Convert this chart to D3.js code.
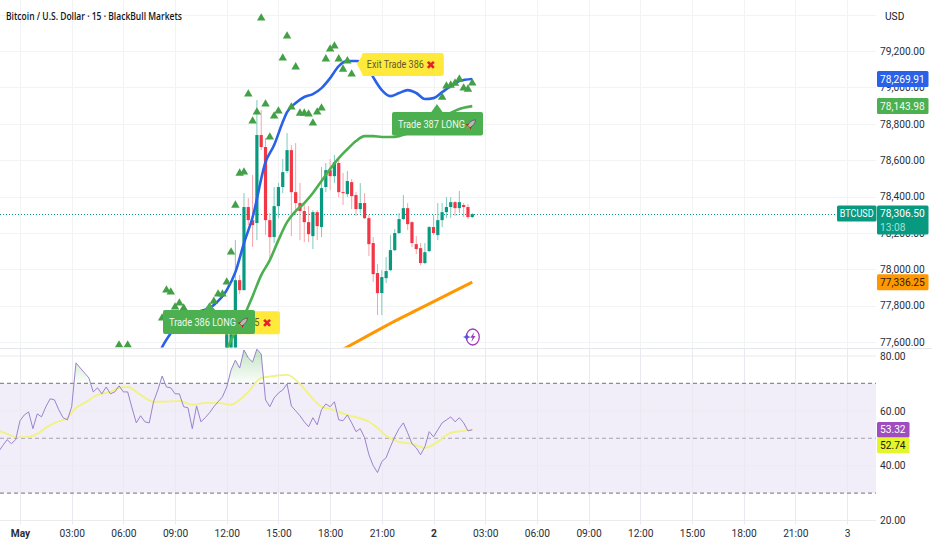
<!DOCTYPE html>
<html><head><meta charset="utf-8">
<script src="https://cdn.jsdelivr.net/npm/d3@7/dist/d3.min.js"></script>
<style>html,body{margin:0;padding:0;background:#fff;overflow:hidden}svg{display:block}text{font-family:Roboto,sans-serif}</style>
</head><body><svg id="c" width="932" height="550"></svg>
<script>
const title = "Bitcoin / U.S. Dollar · 15 · BlackBull Markets";
const currency = "USD";
const firstBar = 48;
const opens = [77544,77544,77544,77940,77885,78342,78270,78254,78738,78672,78270,78177,78347,78452,78540,78655,78424,78364,78320,78259,78182,78314,78232,78452,78545,78512,78584,78424,78413,78479,78408,78331,78364,78281,78144,77979,77869,77951,77995,78105,78199,78276,78336,78259,78138,78116,78034,78100,78232,78188,78270,78314,78342,78369,78336,78353,78342,78287];
const closes = [77649,77731,77940,77885,78342,78270,78243,78738,78672,78270,78177,78347,78452,78534,78655,78424,78364,78320,78259,78193,78314,78237,78446,78545,78512,78589,78424,78419,78485,78402,78331,78364,78281,78138,77973,77869,77957,77990,78105,78199,78276,78336,78248,78144,78111,78034,78094,78232,78199,78270,78314,78342,78369,78336,78369,78342,78287,78303];
const highs = [77649,77731,78160,77968,78419,78391,78518,78930,78875,78721,78309,78452,78474,78606,78749,78683,78694,78474,78353,78347,78325,78325,78562,78584,78606,78628,78611,78529,78540,78496,78424,78474,78419,78298,78177,78028,77995,78067,78188,78221,78309,78408,78364,78265,78182,78144,78144,78237,78298,78364,78364,78397,78397,78375,78430,78364,78358,78309];
const lows = [77544,77544,77544,77863,77885,78243,78122,78160,78655,78188,78050,78144,78281,78419,78529,78182,78298,78160,78149,78149,78111,78160,78177,78424,78435,78474,78397,78353,78397,78331,78292,78309,78276,78072,77929,77748,77748,77924,77990,78100,78193,78270,78215,78122,78083,78023,78028,78094,78188,78160,78232,78281,78281,78292,78309,78287,78276,78281];

const blueBars = [32,33,35,38,45,48,50,52,54,57,59,61,62,64,66,68,70,72,74,76,78,80,82,84,86,88,90,92,94,96,98,100,102,105];
const blueVals = [77522,77572,77648,77731,77803,77885,77984,78144,78286,78589,78683,78809,78864,78914,78947,78963,78996,79051,79117,79145,79145,79140,79056,78985,78952,78969,78985,78969,78936,78941,78974,79007,79035,79046];
const greenBars = [47,49,52,54,56,58,60,62,64,66,68,70,72,74,76,78,80,82,84,86,88,92,96,100,102,105];
const greenVals = [77500,77610,77742,77852,77968,78050,78160,78259,78320,78364,78419,78485,78551,78611,78660,78705,78732,78732,78727,78727,78732,78765,78809,78859,78881,78897];
const orangeBars = [75,81,87,93,99,105];
const orangeVals = [77560,77638,77715,77786,77858,77929];

const triBars = [23,25,33,34,35,36,37,38,44,45,46,47,48,49,50,51,52,53,54,55,56,57,58,59,60,61,62,63,64,65,66,67,68,69,70,71,72,73,74,75,76,77,98,99,100,101,102,103,104,105];
const triVals = [77583,77583,77731,77885,77874,77792,77814,77786,77792,77824,77863,77863,77929,78094,78352,78528,78534,78963,78815,78864,79381,78908,78727,78842,78870,79161,79282,78892,79112,78858,78858,78853,78804,78864,78886,79156,79210,79227,79156,79100,79145,79073,78946,79007,79012,79023,79045,78996,78990,79024];

const rsiStart = -5;
const rsiVals = [45.1,47.3,49.5,48,49.5,56.4,58.5,59.6,53.5,58.9,57.8,61.5,64.4,64,60.4,57.5,56.7,61.5,77.5,75.6,73.8,72,66.9,68.4,66.2,68.7,66.2,66.9,69.1,66.9,66.9,61.1,55.6,58.2,56,55.6,63.3,67.6,72.7,68.7,68.4,66.2,66.2,61.5,61.1,53.5,61.8,56,57.5,59.3,61.5,63.3,65.1,68.7,74.9,78.5,75.6,82.2,79.3,77.8,82.5,80.7,64,61.5,64.7,66.5,67.6,69.8,61.8,60,58.2,56,54.2,57.5,54.9,60.4,62.5,61.5,63.3,56.7,56.4,58.5,55.6,52.4,53.5,50.2,44,40,37.5,41.5,42.9,46.9,50.5,53.5,55.6,52,48,46.5,44,46.9,52.4,50.5,53.1,55.6,56.7,57.8,56,57.5,55.6,52.7,53.1];
const maBars = [-5,-3,-1,2,4,6,8,11,13,15,18,21,23,25,28,31,33,37,40,43,46,49,51,53,56,59,62,65,67,70,72,76,81,83,85,88,91,94,97,100,103,105];
const maVals = [52.7,51.6,50.4,50.5,51.6,53.8,55.6,57.5,61.1,62.9,65.8,66.9,68.4,68.7,65.8,63.3,63.3,63.6,62.2,62.9,62.9,62.2,64,66.9,72,72.7,73.1,69.8,66.2,61.5,60.7,58.5,56,53.8,50.9,48.7,48,46.5,48.7,52,52.7,53.1];

const priceTicks = [79200,79000,78800,78600,78400,78200,78000,77800,77600];
const priceGrid = [79400].concat(priceTicks);
const rsiTicks = [80,60,40,20];
const rsiBands = [70,50,30];
const timeBars = [0,12,24,36,48,60,72,84,96,108,120,132,144,156,168,180,192];
const timeLabels = ["May","03:00","06:00","09:00","12:00","15:00","18:00","21:00","2","03:00","06:00","09:00","12:00","15:00","18:00","21:00","3"];
const boldTimes = ["May","2"];

const lastPrice = 78306.5;
const countdown = "13:08";
const symbol = "BTCUSD";
const readBlue = "78,269.91", readGreen = "78,143.98", readOrange = "77,336.25";
const readRsi = "53.32", readMa = "52.74";

const C = {up:"#089981",dn:"#f23645",upW:"#7fcbbd",dnW:"#f7a3aa",blue:"#2962e8",green:"#4caf50",orange:"#ff9800",tri:"#43a047",grid:"#f2f3f5",txt:"#131722",rsi:"#9a83cc",ma:"#f0f285",band:"#f2eef9",yellow:"#ffe93b",purple:"#a04dc0",lime:"#e4f52c"};

const x = d3.scaleLinear().domain([0,192]).range([20,847]);
const yP = d3.scaleLinear().domain([79200,77600]).range([51,342]);
const yR = d3.scaleLinear().domain([80,20]).range([356,520.5]);
const W = 876;

const svg = d3.select("#c");
svg.append("rect").attr("width",932).attr("height",550).attr("fill","#fff");
const defs = svg.append("defs");
defs.append("clipPath").attr("id","cp").append("rect").attr("width",W).attr("height",347.5);
defs.append("clipPath").attr("id","cr").append("rect").attr("y",349).attr("width",W).attr("height",176);
defs.append("clipPath").attr("id","ob").append("rect").attr("y",349).attr("width",W).attr("height",yR(70)-349);
const gr = defs.append("linearGradient").attr("id","obg").attr("gradientUnits","userSpaceOnUse").attr("x1",0).attr("x2",0).attr("y1",349).attr("y2",yR(70));
gr.append("stop").attr("offset","0%").attr("stop-color","#4caf50").attr("stop-opacity",0.34);
gr.append("stop").attr("offset","100%").attr("stop-color","#4caf50").attr("stop-opacity",0.02);

// grid
const grid = svg.append("g").attr("stroke",C.grid).attr("stroke-width",1);
grid.selectAll(".v").data(timeBars).join("line").attr("x1",d=>Math.round(x(d))+.5).attr("x2",d=>Math.round(x(d))+.5).attr("y1",0).attr("y2",525);
grid.selectAll(".h").data(priceGrid).join("line").attr("x1",0).attr("x2",W).attr("y1",d=>Math.round(yP(d))+.5).attr("y2",d=>Math.round(yP(d))+.5);

// RSI pane
const rp = svg.append("g").attr("clip-path","url(#cr)");
rp.append("rect").attr("x",0).attr("width",W).attr("y",yR(70)).attr("height",yR(30)-yR(70)).attr("fill",C.band);
rp.selectAll(".rg").data(rsiTicks).join("line").attr("x1",0).attr("x2",W).attr("y1",d=>yR(d)).attr("y2",d=>yR(d)).attr("stroke","#ebebf0");
rp.selectAll(".rv").data(timeBars).join("line").attr("x1",d=>Math.round(x(d))+.5).attr("x2",d=>Math.round(x(d))+.5).attr("y1",349).attr("y2",525).attr("stroke","#ebe8f2");
rp.selectAll(".rb").data(rsiBands).join("line").attr("x1",0).attr("x2",W).attr("y1",d=>yR(d)).attr("y2",d=>yR(d))
  .attr("stroke",d=>d===50?"#a5a3ad":"#8d8b95").attr("stroke-width",d=>d===50?1:1.2).attr("stroke-dasharray","4 3");
const rsiData = rsiVals.map((v,i)=>({i:i+rsiStart,v}));
rp.append("path").datum(rsiData).attr("clip-path","url(#ob)").attr("fill","url(#obg)")
  .attr("d",d3.area().x(d=>x(d.i)).y0(yR(70)).y1(d=>yR(d.v)));
rp.append("path").datum(maBars.map((b,i)=>({i:b,v:maVals[i]}))).attr("fill","none").attr("stroke",C.ma).attr("stroke-width",1.9)
  .attr("d",d3.line().x(d=>x(d.i)).y(d=>yR(d.v)).curve(d3.curveMonotoneX));
rp.append("path").datum(rsiData).attr("fill","none").attr("stroke",C.rsi).attr("stroke-width",1)
  .attr("d",d3.line().x(d=>x(d.i)).y(d=>yR(d.v)));

// price pane
const pp = svg.append("g").attr("clip-path","url(#cp)");
const lineFn = d3.line().x(d=>x(d.i)).y(d=>yP(d.v)).curve(d3.curveMonotoneX);
function zip(b,v){return b.map((k,i)=>({i:k,v:v[i]}));}
const bars = opens.map((o,k)=>({i:k+firstBar,o,c:closes[k],h:highs[k],l:lows[k]}));
pp.append("line").attr("x1",0).attr("x2",W).attr("y1",Math.round(yP(lastPrice))+.5).attr("y2",Math.round(yP(lastPrice))+.5)
  .attr("stroke",C.up).attr("stroke-dasharray","1 2");
pp.selectAll(".w").data(bars).join("line").attr("x1",d=>x(d.i)).attr("x2",d=>x(d.i)).attr("y1",d=>yP(d.h)).attr("y2",d=>yP(d.l))
  .attr("stroke",d=>d.c>=d.o?C.upW:C.dnW).attr("stroke-width",1);
pp.selectAll(".b").data(bars).join("rect").attr("x",d=>x(d.i)-1.6).attr("width",3.2)
  .attr("y",d=>yP(Math.max(d.o,d.c))).attr("height",d=>Math.max(1,Math.abs(yP(d.o)-yP(d.c))))
  .attr("fill",d=>d.c>=d.o?C.up:C.dn);
pp.append("path").datum(zip(orangeBars,orangeVals)).attr("fill","none").attr("stroke",C.orange).attr("stroke-width",3).attr("d",lineFn);
pp.append("path").datum(zip(greenBars,greenVals)).attr("fill","none").attr("stroke",C.green).attr("stroke-width",2.6).attr("d",lineFn);
pp.append("path").datum(zip(blueBars,blueVals)).attr("fill","none").attr("stroke",C.blue).attr("stroke-width",2.6).attr("d",lineFn);
const tri = d3.symbol().type(d3.symbolTriangle).size(31);
pp.selectAll(".t").data(zip(triBars,triVals)).join("path").attr("d",tri)
  .attr("transform",d=>`translate(${x(d.i)},${yP(d.v)})`).attr("fill",C.tri);

// trade labels
function rocket(g,cx,cy){
  const r=g.append("g").attr("transform",`translate(${cx},${cy}) rotate(45) scale(1.05)`);
  r.append("path").attr("d","M0,-6 C2.4,-3.5 2.2,0 1.8,3 L-1.8,3 C-2.2,0 -2.4,-3.5 0,-6Z").attr("fill","#b9b6bc").attr("stroke","#4c444a").attr("stroke-width",.6);
  r.append("path").attr("d","M-1.8,1 L-3.4,4 L-1.4,3ZM1.8,1 L3.4,4 L1.4,3Z").attr("fill","#b71c1c");
  r.append("path").attr("d","M-1.2,3.2 L0,6 L1.2,3.2Z").attr("fill","#e67e22");
}
function cross(g,tx,cy){
  g.append("text").attr("x",tx).attr("y",cy).attr("dy","0.36em").attr("text-anchor","middle").attr("fill","#e5202a")
    .style("font-family","'DejaVu Sans'").style("font-size","11.5px").style("font-weight",700).text("✖");
}
const lab = svg.append("g").style("font-size","10.2px");
function yellowLabel(tipBar,tipP,text,boxW){
  const tx=x(tipBar),ty=yP(tipP),l=tx+5,t=ty-11,b=ty+12,r=l+boxW;
  const g=lab.append("g");
  g.append("path").attr("fill",C.yellow).attr("d",`M${tx},${ty}L${l},${t+3}Q${l},${t} ${l+2},${t}L${r-2},${t}Q${r},${t} ${r},${t+2}L${r},${b-2}Q${r},${b} ${r-2},${b}L${l+2},${b}Q${l},${b} ${l},${b-3}Z`);
  g.append("text").attr("x",l+5).attr("y",ty+.5).attr("dy","0.36em").attr("fill","#5c5a2e").attr("textLength",57).attr("lengthAdjust","spacingAndGlyphs").text(text);
  cross(g,r-13,ty+.5);
}
function greenLabel(tipBar,tipP,left,top,w,h,text){
  const tx=x(tipBar),ty=yP(tipP);
  const g=lab.append("g");
  g.append("rect").attr("x",left).attr("y",top).attr("width",w).attr("height",h).attr("rx",2).attr("fill",C.green);
  g.append("path").attr("d",`M${tx},${ty}L${tx+6},${top+.5}L${tx-6},${top+.5}Z`).attr("fill",C.green);
  g.append("text").attr("x",left+6).attr("y",top+h/2+.5).attr("dy","0.36em").attr("fill","#eef7ee").attr("textLength",67).attr("lengthAdjust","spacingAndGlyphs").text(text);
  rocket(g,left+w-12,top+h/2+.5);
}
yellowLabel(78.2,79128,"Exit Trade 386",82);
yellowLabel(40,77709,"Exit Trade 385",82.7);
greenLabel(96.8,78908,392,112,91,23.5,"Trade 387 LONG");
greenLabel(44,77814,163,310,92,24,"Trade 386 LONG");

// lightning mark
const lx=x(105)+.5, ly=337;
const lm=svg.append("g").attr("transform",`translate(${lx},${ly})`);
lm.append("ellipse").attr("rx",6.5).attr("ry",8).attr("fill","#fff").attr("stroke","#a63bb8").attr("stroke-width",1.3);
lm.append("path").attr("d","M1.5,-5 L-2.5,.8 L-.2,.8 L-1.5,5 L2.8,-1 L.4,-1Z").attr("fill","#a63bb8");
lm.append("path").attr("d","M-6,-3.5 L-4.7,-1 L-2.2,0 L-4.7,1 L-6,3.5 L-7.3,1 L-9.8,0 L-7.3,-1Z").attr("fill","#5b4fe0");

// pane separators
svg.append("line").attr("x1",0).attr("x2",932).attr("y1",348.5).attr("y2",348.5).attr("stroke","#e6e7ea");

// axes
const axisFont = g=>{g.select(".domain").remove();g.selectAll(".tick line").remove();g.selectAll("text").attr("fill","#2a2e39").style("font-family","Roboto").style("font-size","10.2px");};
svg.append("g").attr("transform","translate(877,0)").call(d3.axisRight(yP).tickValues(priceTicks).tickSize(0).tickPadding(3).tickFormat(d3.format(",.2f"))).call(axisFont);
svg.append("rect").attr("x",877).attr("y",348).attr("width",55).attr("height",1).attr("fill","#e6e7ea");
svg.append("g").attr("transform","translate(877,0)").call(d3.axisRight(yR).tickValues(rsiTicks).tickSize(0).tickPadding(3).tickFormat(d3.format(".2f"))).call(axisFont);
svg.append("rect").attr("x",0).attr("y",524.5).attr("width",932).attr("height",25.5).attr("fill","#fff");
const tax = svg.append("g").attr("transform","translate(0,530)").call(d3.axisBottom(x).tickValues(timeBars).tickSize(0).tickPadding(0).tickFormat((d,i)=>timeLabels[i])).call(axisFont);
tax.selectAll("text").attr("dy","0.71em").style("font-weight",d=>boldTimes.includes(timeLabels[timeBars.indexOf(d)])?700:400);
svg.append("text").attr("x",885).attr("y",16).attr("dy","0.36em").attr("fill","#131722").style("font-size","10.2px").text(currency);
svg.append("text").attr("x",6).attr("y",16).attr("dy","0.36em").attr("fill","#131722").style("font-family","'Open Sans'").style("font-size","10.4px").style("font-weight",600).attr("textLength",176).attr("lengthAdjust","spacingAndGlyphs").text(title);

// price tags
function tag(x0,yc,w,h,fill,text,col){
  svg.append("rect").attr("x",x0).attr("y",yc-h/2).attr("width",w).attr("height",h).attr("rx",1.5).attr("fill",fill);
  svg.append("text").attr("x",x0+3).attr("y",yc).attr("dy","0.36em").attr("fill",col).style("font-size","10.2px").text(text);
}
tag(877,yP(blueVals[blueVals.length-1]),51.5,16,C.blue,readBlue,"#fff");
tag(877,yP(greenVals[greenVals.length-1]),51.5,16,C.green,readGreen,"#f2fbf2");
tag(877,yP(orangeVals[orangeVals.length-1]),51.5,16,C.orange,readOrange,"#2b1c00");
// last price
const ly0=yP(lastPrice);
svg.append("rect").attr("x",877).attr("y",ly0-8).attr("width",51.5).attr("height",29).attr("rx",1.5).attr("fill",C.up);
svg.append("text").attr("x",880).attr("y",ly0).attr("dy","0.36em").attr("fill","#fff").style("font-size","10.2px").text(d3.format(",.2f")(lastPrice));
svg.append("text").attr("x",880).attr("y",ly0+13.5).attr("dy","0.36em").attr("fill","#a5e0d4").style("font-size","10.2px").text(countdown);
svg.append("rect").attr("x",837).attr("y",ly0-8).attr("width",39.5).attr("height",16).attr("rx",1.5).attr("fill",C.up);
svg.append("text").attr("x",856.7).attr("y",ly0).attr("dy","0.36em").attr("text-anchor","middle").attr("fill","#fff").style("font-size","10.2px").attr("textLength",34).attr("lengthAdjust","spacingAndGlyphs").text(symbol);
// RSI tags
const ry=yR(rsiVals[rsiVals.length-1]);
tag(877,ry,32.5,15.5,C.purple,readRsi,"#fff");
tag(877,ry+15.7,32.5,15.5,C.lime,readMa,"#1c1c00");
</script></body></html>
